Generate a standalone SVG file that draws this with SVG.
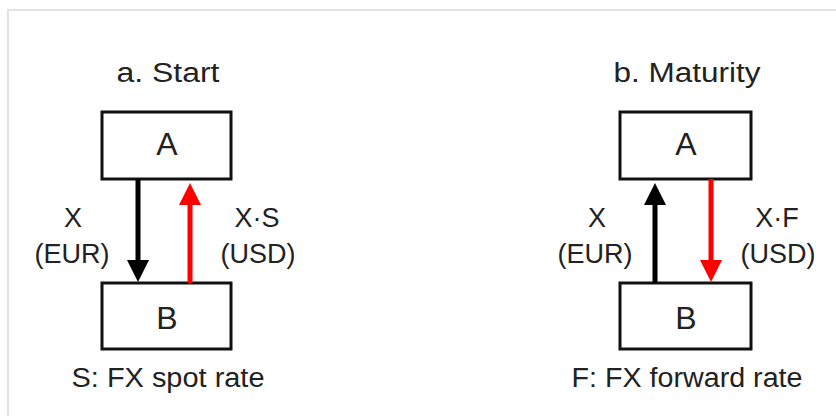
<svg xmlns="http://www.w3.org/2000/svg" width="836" height="416" viewBox="0 0 836 416">
<style>
.box{fill:#fff;stroke:#111;stroke-width:3}
.t{font-family:"Liberation Sans",Arial,sans-serif;fill:#222;text-anchor:middle}
.lbl{font-size:27px}
.big{font-size:32px}
.blk{stroke:#000;stroke-width:5;fill:none}
.red{stroke:#f00;stroke-width:5;fill:none}
</style>
<rect x="0" y="0" width="836" height="416" fill="#fff"/>
<rect x="8" y="10" width="840" height="420" fill="none" stroke="#e2e2e2" stroke-width="2"/>
<g id="panel-a">
<text class="t lbl" x="168" y="82" textLength="103" lengthAdjust="spacingAndGlyphs">a. Start</text>
<text class="t lbl" x="168" y="387" textLength="193" lengthAdjust="spacingAndGlyphs">S: FX spot rate</text>
</g>
<g id="panel-b">
<text class="t lbl" x="687" y="82" textLength="147" lengthAdjust="spacingAndGlyphs">b. Maturity</text>
<text class="t lbl" x="687" y="387" textLength="231" lengthAdjust="spacingAndGlyphs">F: FX forward rate</text>
</g>
<g id="nodeA1"><rect class="box" x="102" y="112" width="129" height="67"/><text class="t big" x="167" y="155">A</text></g>
<g id="nodeB1"><rect class="box" x="102" y="283" width="129" height="66"/><text class="t big" x="167" y="329">B</text></g>
<g id="nodeA2"><rect class="box" x="620" y="112" width="131" height="67"/><text class="t big" x="686" y="155">A</text></g>
<g id="nodeB2"><rect class="box" x="620" y="283" width="131" height="66"/><text class="t big" x="686" y="329">B</text></g>
<g id="connectors">
<line class="blk" x1="138" y1="179" x2="138" y2="262"/>
<polygon points="127,260 149,260 138,282" fill="#000"/>
<line class="red" x1="190" y1="283" x2="190" y2="203"/>
<polygon points="179,205 201,205 190,183" fill="#f00"/>
<line class="blk" x1="655" y1="283" x2="655" y2="203"/>
<polygon points="644,205 666,205 655,183" fill="#000"/>
<line class="red" x1="711" y1="179" x2="711" y2="262"/>
<polygon points="700,260 722,260 711,282" fill="#f00"/>
</g>
<g id="labels">
<text class="t lbl" x="73" y="227">X</text>
<text class="t lbl" x="72" y="263">(EUR)</text>
<text class="t lbl" x="257" y="227">X·S</text>
<text class="t lbl" x="258" y="263">(USD)</text>
<text class="t lbl" x="597" y="227">X</text>
<text class="t lbl" x="595" y="263">(EUR)</text>
<text class="t lbl" x="777" y="227">X·F</text>
<text class="t lbl" x="778" y="263">(USD)</text>
</g>
</svg>
